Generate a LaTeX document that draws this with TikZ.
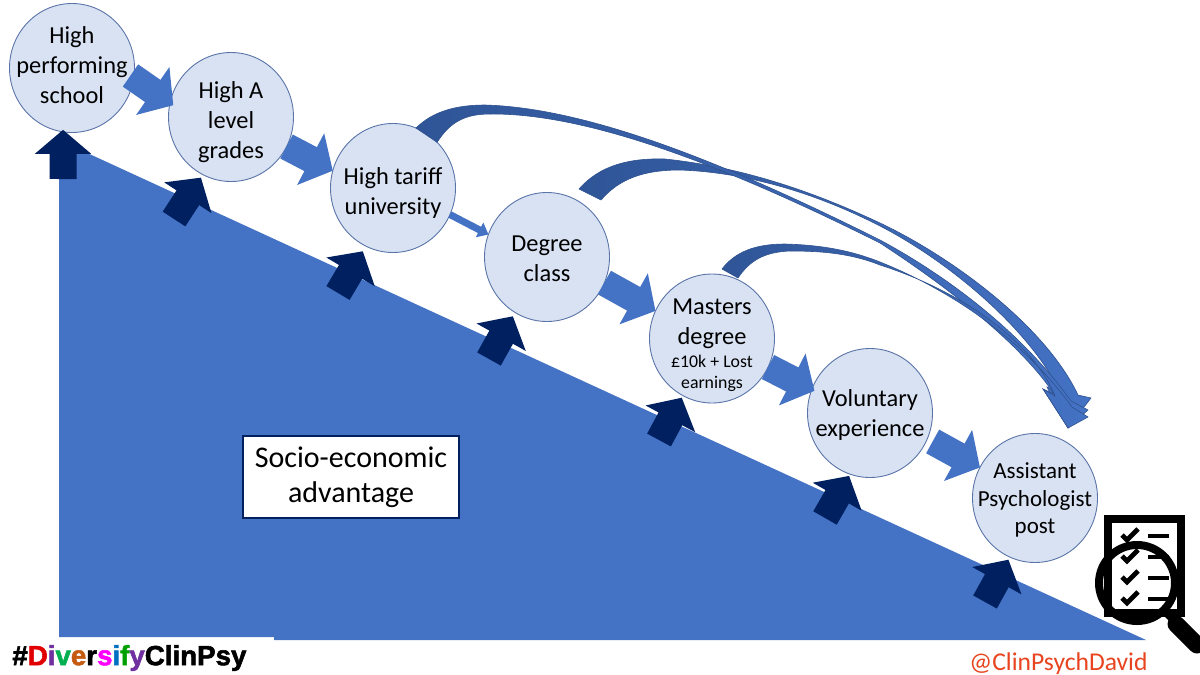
\documentclass[tikz,border=0pt]{standalone}
\usepackage{fontspec}
\usepackage{xcolor}
\usetikzlibrary{arrows.meta, shapes.geometric}
\setmainfont{Carlito}
\newfontfamily\tagfont[FakeBold=2]{Liberation Sans Bold}
\newcommand{\smallnote}{\fontsize{8.9}{10.5}\selectfont}
\definecolor{stagefill}{HTML}{D9E2F3}
\definecolor{stageedge}{HTML}{5A74A8}
\definecolor{flowblue}{HTML}{4472C4}
\definecolor{flowedge}{HTML}{2F528F}
\definecolor{flowdark}{HTML}{2F5597}
\definecolor{liftnavy}{HTML}{002060}
\definecolor{handlered}{HTML}{E8441F}

\begin{document}
\begin{tikzpicture}[
        x=0.5pt,
        y=-0.5pt,
        stage/.style={ellipse, draw=stageedge, fill=stagefill, line width=0.45pt, outer sep=0pt, inner sep=0pt,
            minimum width=62.5pt, minimum height=64.5pt},
        every label/.style={align=center, inner sep=0pt, font=\fontsize{12.2}{15}\selectfont},
        flow/.style={line width=13.5pt, draw=flowblue, -{Triangle[length=12.5pt,width=28.5pt]}},
        thinflow/.style={line width=3.5pt, draw=flowblue, -{Triangle[length=5pt,width=8pt]}},
        lift/.style={line width=13.5pt, draw=liftnavy, -{Triangle[length=12pt,width=27.5pt]}},
        arc/.style={draw=flowedge, line width=0.3pt, left color=flowdark, right color=flowblue}
    ]
    \useasboundingbox (0,0) rectangle (1200,675);

    % wedge
    \fill[flowblue] (59,140) -- (1146,640) -- (274,640) -- (274,637) -- (59,637) -- cycle;
    \node[draw=liftnavy, fill=white, line width=0.6pt, minimum width=108pt, minimum height=41pt, inner sep=0pt,
        align=center, font=\fontsize{15}{17.5}\selectfont] (advantage) at (351,477) {\raisebox{-1pt}{Socio-economic}\\\raisebox{-1pt}{advantage}};

    \node[stage, label={[yshift=1.5pt]center:{High\\performing\\school}}] (school) at (72,68) {};
    \node[stage, label={[yshift=-2.5pt]center:{High A\\level\\grades}}] (alevel) at (231,117) {};
    \node[stage, label={[yshift=-2.5pt]center:{High tariff\\university}}] (tariff) at (393,188) {};
    \node[stage, label={[yshift=-0.7pt]center:{Degree\\class}}] (degree) at (547,257) {};
    \node[stage, label={[yshift=-3.5pt]center:{Masters\\degree\\[-3.5pt]\smallnote £10k + Lost\\[-4.5pt]\smallnote earnings}}] (masters) at (712,338.5) {};
    \node[stage, label={[yshift=-1pt]center:{Voluntary\\experience}}] (voluntary) at (870,413) {};
    \node[stage, label={[yshift=-1pt, font=\fontsize{11.5}{13.75}\selectfont]center:{Assistant\\Psychologist\\post}}] (assistant) at (1035,498) {};

    % steps between stages
    \draw[flow, shorten <=-2pt, shorten >=-2pt] (school.-9) -- (alevel.167);
    \draw[flow] (alevel.-28) -- (tariff.164);
    \draw[thinflow] (tariff.-25) -- (degree.159);
    \draw[flow] (degree.-24) -- (masters.154);
    \draw[flow, shorten >=-1.5pt] (masters.-27) -- (voluntary.158);
    \draw[flow, shorten <=3pt] (voluntary.-24) -- (assistant.151);

    % lifts out of the wedge
    \coordinate (lifta) at (63,179);
    \coordinate (liftb) at (174,219);
    \coordinate (liftc) at (338,293);
    \coordinate (liftd) at (489,359);
    \coordinate (lifte) at (659,440);
    \coordinate (liftf) at (825,518);
    \coordinate (liftg) at (985,602);
    \draw[lift, shorten >=-1pt] (lifta) -- (school.-98);
    \draw[lift, shorten >=1.8pt] (liftb) -- (alevel.-116);
    \draw[lift, shorten >=3pt] (liftc) -- (tariff.-115);
    \draw[lift, shorten >=2.2pt] (liftd) -- (degree.-120);
    \draw[lift, shorten >=1.2pt] (lifte) -- (masters.-117);
    \draw[lift, shorten >=1pt] (liftf) -- (voluntary.-108);
    \draw[lift, shorten >=1.5pt] (liftg) -- (assistant.-113);

    % long arcs to the last stage
    \coordinate (degreeout) at (579,189);
    \coordinate (degreein) at (601,200);
    \coordinate (mastersout) at (722,269);
    \coordinate (mastersin) at (738,278);
    \coordinate (arctip) at (1068,428);
    \coordinate (arcbarb) at (1043,389);
    \path[arc] (degreeout) .. controls (600,165) and (630,158) .. (665,159)
        .. controls (740,167) and (810,190) .. (880,223)
        .. controls (950,256) and (1045,325) .. (1078,395) -- (1091,398) -- (arctip) -- (1047,387) -- (1060,392)
        .. controls (1030,330) and (950,262) .. (880,226)
        .. controls (810,190) and (740,172) .. (680,170)
        .. controls (645,170) and (620,178) .. (degreein) -- cycle;
    \path[arc] (tariff.69) .. controls (432,112) and (455,105) .. (485,105)
        .. controls (590,108) and (730,165) .. (880,240)
        .. controls (945,275) and (1020,330) .. (1071,401) -- (1088,410) -- (arctip) -- (arcbarb) -- (1054,394)
        .. controls (1025,350) and (960,295) .. (880,243)
        .. controls (730,168) and (590,113) .. (490,114)
        .. controls (465,114) and (450,122) .. (tariff.46) -- cycle;
    \path[arc] (mastersout) .. controls (735,252) and (755,244) .. (785,244)
        .. controls (820,245) and (850,250) .. (880,262)
        .. controls (945,288) and (1020,335) .. (1072,407) -- (1088,417) -- (arctip) -- (arcbarb) -- (1055,396)
        .. controls (1035,345) and (965,292) .. (880,265)
        .. controls (850,253) and (820,251) .. (790,251)
        .. controls (765,252) and (750,260) .. (mastersin) -- cycle;

    % checklist under the lens
    \draw[line width=4pt] (1108,519) rectangle (1181,613);
    \foreach \y in {535,556,577,598} {
        \draw[line width=2.4pt] (1122,\y) -- (1127,\y+5) -- (1138,\y-6);
        \draw[line width=2.4pt] (1148,\y+1) -- (1169,\y+1);
    }
    \draw[line width=4pt] (1137,583) circle (38);
    \draw[line width=3.5pt] (1165,612) -- (1175,622);
    \draw[line width=8.5pt, line cap=round] (1176,624) -- (1197,645);

    \node[anchor=west, inner sep=0pt, font=\tagfont\fontsize{13.85}{16}\selectfont] (hashtag) at (12,658)
        {\#\textcolor[HTML]{E00000}{D}\textcolor[HTML]{7030A0}{i}\textcolor[HTML]{00B050}{v}\textcolor[HTML]{C55A11}{e}r\textcolor[HTML]{FF00FF}{s}\textcolor[HTML]{0070C0}{i}\textcolor[HTML]{00A000}{f}\textcolor[HTML]{7030A0}{y}ClinPsy};
    \node[anchor=west, inner sep=0pt, text=handlered, font=\fontsize{12.8}{15}\selectfont] (handle) at (969,664) {@ClinPsychDavid};
\end{tikzpicture}
\end{document}
